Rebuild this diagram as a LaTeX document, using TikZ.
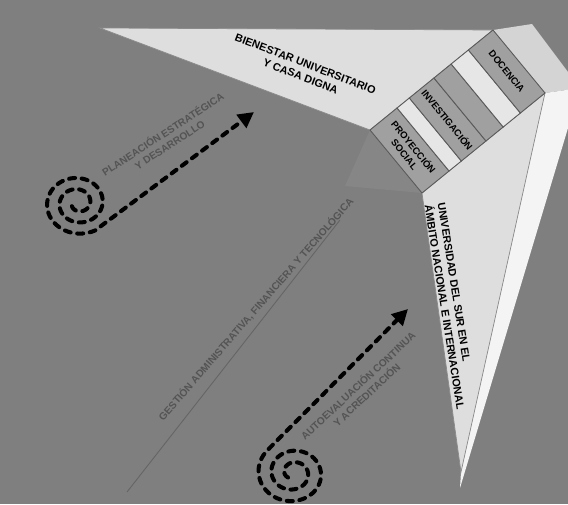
\documentclass[tikz,border=0pt]{standalone}
\usepackage{fontspec}
\setmainfont{Liberation Sans}
\usepackage{tikz}
\usetikzlibrary{arrows.meta, calc}
\definecolor{bggray}{RGB}{127,127,127}
\definecolor{winglight}{RGB}{222,222,222}
\definecolor{wingwhite}{RGB}{244,244,244}
\definecolor{facegray}{RGB}{212,212,212}
\definecolor{bandgray}{RGB}{160,160,160}
\definecolor{bandlight}{RGB}{230,230,230}
\definecolor{edgegray}{RGB}{90,90,90}
\definecolor{ghost}{RGB}{84,84,84}
\definecolor{hubgray}{RGB}{134,134,134}
\tikzset{
  wing/.style={fill=winglight, draw=edgegray!70, line width=0.4pt},
  band/.style={fill=bandgray, draw=edgegray, line width=0.5pt},
  stripe/.style={fill=bandlight, draw=edgegray, line width=0.5pt},
  boxtext/.style={font=\fontsize{6.2}{7.6}\selectfont\bfseries, text=black,
    align=center, inner sep=0pt},
  bandtext/.style={font=\fontsize{5.4}{6.6}\selectfont\bfseries, text=black,
    align=center, inner sep=0pt},
  ghosttext/.style={font=\fontsize{5.8}{7.2}\selectfont\bfseries, text=ghost,
    align=center, inner sep=0pt},
  spiralarrow/.style={line width=2.3pt, black, line cap=round,
    dash pattern=on 3.4pt off 3.8pt, -{Triangle[length=9pt,width=9pt]}}
}

\begin{document}
\begin{tikzpicture}[x=0.02cm, y=-0.02cm]
  % Background
  \useasboundingbox (0,0) rectangle (568,504);
  \clip (0,0) rectangle (568,504);
  \fill[bggray] (0,0) rectangle (568,504);

  % Box corners
  \coordinate (O) at (370,130);
  \coordinate (T) at (493,30);
  \coordinate (B) at (422,193);
  \coordinate (R) at (545,93);

  % Hub shadow
  \fill[hubgray] (345,186) -- (O) -- (B) -- cycle;

  % Upper wing
  \draw[wing] (100,28) -- (T) -- (O) -- cycle;
  \node[boxtext, rotate=-21] (wingtxt) at (303,70) {BIENESTAR UNIVERSITARIO\\Y CASA DIGNA};

  % Right wing with light side face
  \fill[facegray] (T) -- (532,24) -- (580,88) -- (R) -- cycle;
  \fill[wingwhite] (R) -- (580,88) -- (460,488) -- (461,472) -- cycle;
  \draw[wing] (B) -- (R) -- (461,472) -- cycle;
  \node[boxtext, rotate=-81, align=left] (rwingtxt) at (451,306)
    {UNIVERSIDAD DEL SUR EN EL\\ÁMBITO NACIONAL E INTERNACIONAL};

  % Banded box
  \foreach \a/\b/\st/\txt [count=\i] in {0/0.22/band/{PROYECCIÓN\\SOCIAL},
      0.22/0.32/stripe/{}, 0.32/0.52/band/{INVESTIGACIÓN}, 0.52/0.66/band/{},
      0.66/0.8/stripe/{}, 0.8/1/band/{DOCENCIA}} {
    \pgfmathsetmacro\m{(\a+\b)/2}
    \draw[\st] ($(O)!\a!(T)$) -- ($(O)!\b!(T)$) -- ($(B)!\b!(R)$) -- ($(B)!\a!(R)$) -- cycle;
    \coordinate (m1) at ($(O)!\m!(T)$);
    \coordinate (m2) at ($(B)!\m!(R)$);
    \node[bandtext, rotate=-51] (band\i) at ($(m1)!0.5!(m2)$) {\txt};
  }

  % Long diagonal label
  \draw[ghost!60!bggray, line width=0.5pt] (127,492) -- (340,220);
  \node[ghosttext, rotate=49] (diagtxt) at (256,309)
    {GESTIÓN ADMINISTRATIVA, FINANCIERA Y TECNOLÓGICA};

  % Upper spiral
  \coordinate (tipA) at (254,112);
  \draw[spiralarrow] plot[domain=0:1, samples=140, smooth]
    ({78+(7+28*\x)*cos(870-810*\x)}, {203+0.9*(7+28*\x)*sin(870-810*\x)}) -- (tipA);
  \node[ghosttext, rotate=33] (spiraltxtA) at (166,139)
    {PLANEACIÓN ESTRATÉGICA\\Y DESARROLLO};

  % Lower spiral
  \coordinate (tipB) at (408,309);
  \draw[spiralarrow] plot[domain=0:1, samples=140, smooth]
    ({293+(7+29*\x)*cos(-585+810*\x)}, {473+0.9*(7+29*\x)*sin(-585+810*\x)}) -- (tipB);
  \node[ghosttext, rotate=43] (spiraltxtB) at (362,390)
    {AUTOEVALUACIÓN CONTINUA\\Y ACREDITACIÓN};
\end{tikzpicture}
\end{document}
